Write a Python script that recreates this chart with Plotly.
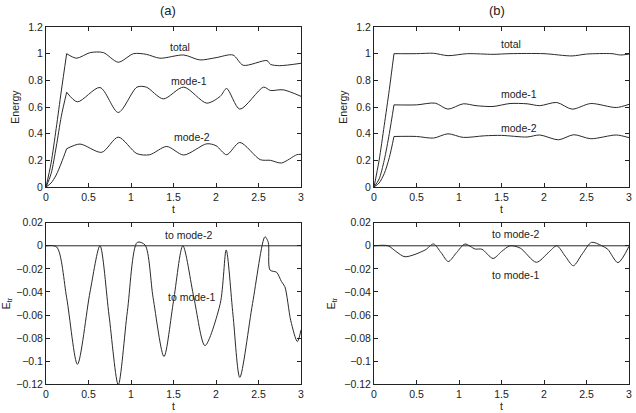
import plotly.graph_objects as go

# ---------------- data ----------------
# panel (a) energy: initial rise
rise_a_t = [0, 0.06, 0.12, 0.18, 0.243]
rise_a_total = [0, 0.18, 0.44, 0.72, 1.0]
rise_a_mode1 = [0, 0.10, 0.30, 0.53, 0.711]
rise_a_mode2 = [0, 0.03, 0.09, 0.18, 0.287]

total_a_t = [0.243, 0.36, 0.52, 0.675, 0.85, 1.03, 1.18, 1.34, 1.62, 1.81, 2.0, 2.2, 2.32, 2.6, 2.64, 2.75, 3.0]
total_a = [1.0, 0.966, 1.008, 1.008, 0.936, 1.0, 0.995, 0.966, 0.99, 0.953, 0.97, 0.99, 0.913, 0.948, 0.92, 0.91, 0.928]

mode1_a_t = [0.243, 0.37, 0.635, 0.85, 1.07, 1.18, 1.38, 1.62, 1.89, 2.05, 2.125, 2.28, 2.56, 2.64, 2.79, 3.0]
mode1_a = [0.711, 0.639, 0.746, 0.559, 0.749, 0.749, 0.661, 0.749, 0.629, 0.68, 0.739, 0.584, 0.749, 0.724, 0.729, 0.68]

mode2_a_t = [0.243, 0.4, 0.655, 0.85, 1.07, 1.22, 1.42, 1.62, 1.89, 2.0, 2.125, 2.28, 2.52, 2.64, 2.77, 2.95, 3.0]
mode2_a = [0.287, 0.322, 0.26, 0.374, 0.25, 0.242, 0.304, 0.24, 0.324, 0.31, 0.242, 0.334, 0.205, 0.2, 0.18, 0.242, 0.245]

# panel (b) energy: initial rise
rise_b_t = [0, 0.06, 0.12, 0.18, 0.235]
rise_b_total = [0, 0.2, 0.46, 0.73, 1.0]
rise_b_mode1 = [0, 0.06, 0.2, 0.4, 0.616]
rise_b_mode2 = [0, 0.03, 0.1, 0.22, 0.379]

total_b_t = [0.235, 0.5, 0.7, 0.87, 1.1, 1.4, 1.6, 2.0, 2.33, 2.5, 2.8, 2.9, 3.0]
total_b = [1.0, 1.0, 1.003, 0.985, 1.0, 0.995, 1.0, 1.0, 0.983, 0.997, 1.0, 0.99, 0.997]

mode1_b_t = [0.235, 0.5, 0.72, 0.87, 1.05, 1.2, 1.4, 1.6, 1.8, 1.95, 2.15, 2.33, 2.55, 2.85, 3.0]
mode1_b = [0.616, 0.616, 0.629, 0.584, 0.624, 0.61, 0.604, 0.626, 0.624, 0.61, 0.634, 0.584, 0.626, 0.596, 0.62]

mode2_b_t = [0.235, 0.5, 0.7, 0.87, 1.05, 1.3, 1.5, 1.8, 1.95, 2.17, 2.35, 2.55, 2.85, 3.0]
mode2_b = [0.379, 0.379, 0.367, 0.399, 0.372, 0.384, 0.387, 0.375, 0.39, 0.354, 0.392, 0.362, 0.39, 0.37]

# energy transfer
zero_t = [0, 3]
etr_mode2 = [0, 0]

etr_a_t = [0, 0.125, 0.243, 0.37, 0.518, 0.635, 0.741, 0.85, 0.957, 1.074, 1.165, 1.26, 1.388, 1.5,
           1.61, 1.74, 1.87, 2.05, 2.12, 2.2, 2.28, 2.43, 2.576, 2.615, 2.635, 2.714, 2.77, 2.81, 2.88, 2.957, 3.0]
etr_a = [0, -0.001, -0.045, -0.1027, -0.04, 0.0, -0.06, -0.1205, -0.057, 0.003, 0.0007, -0.045, -0.096, -0.048,
         0.0, -0.045, -0.0865, -0.05, -0.0036, -0.06, -0.114, -0.05, 0.0078, 0.003, -0.021, -0.023, -0.031, -0.0354, -0.065, -0.083, -0.073]

etr_b_t = [0, 0.165, 0.26, 0.365, 0.6, 0.70, 0.79, 0.874, 0.97, 1.07, 1.19, 1.27, 1.40, 1.5, 1.6, 1.72, 1.91,
           2.05, 2.15, 2.25, 2.345, 2.45, 2.56, 2.68, 2.75, 2.87, 3.0]
etr_b = [0, 0, -0.005, -0.0095, -0.0037, 0.0016, -0.006, -0.0137, -0.006, 0.0015, -0.0028, -0.003, -0.011, -0.005,
         0.0, -0.002, -0.0143, -0.006, 0.0, -0.009, -0.0173, -0.007, 0.003, 0.0, -0.003, -0.0146, -0.0005]

# ---------------- figure ----------------
LINE = dict(color="#2a2a2a", width=1)
FONT = "Liberation Sans, Arial, sans-serif"

fig = go.Figure()

def add(x, y, xa, ya, shape="spline"):
    fig.add_trace(go.Scatter(x=x, y=y, mode="lines", line=dict(**LINE, shape=shape, smoothing=0.8),
                             xaxis=xa, yaxis=ya, showlegend=False, hoverinfo="skip"))

# (a) energy
for x, y in [(rise_a_t, rise_a_total), (rise_a_t, rise_a_mode1), (rise_a_t, rise_a_mode2),
             (total_a_t, total_a), (mode1_a_t, mode1_a), (mode2_a_t, mode2_a)]:
    add(x, y, "x", "y")
# (b) energy
for x, y in [(rise_b_t, rise_b_total), (rise_b_t, rise_b_mode1), (rise_b_t, rise_b_mode2),
             (total_b_t, total_b), (mode1_b_t, mode1_b), (mode2_b_t, mode2_b)]:
    add(x, y, "x2", "y2")
# (a) transfer
add(zero_t, etr_mode2, "x3", "y3", shape="linear")
add(etr_a_t, etr_a, "x3", "y3")
# (b) transfer
add(zero_t, etr_mode2, "x4", "y4", shape="linear")
add(etr_b_t, etr_b, "x4", "y4")

L_DOM = [46 / 636, 301 / 636]
R_DOM = [374 / 636, 629 / 636]
T_DOM = [1 - 187 / 413, 1 - 27 / 413]
B_DOM = [1 - 384.3 / 413, 1 - 222.7 / 413]

tickfont = dict(family=FONT, size=10.5, color="#222")
titlefont = dict(family=FONT, size=10.5, color="#222")

def xax(dom, anchor):
    return dict(domain=dom, anchor=anchor, range=[0, 3], dtick=0.5, tick0=0,
                showline=True, linecolor="#222", linewidth=1, mirror="ticks",
                ticks="inside", ticklen=4, tickcolor="#222", showgrid=False, zeroline=False,
                tickfont=tickfont, title=dict(text="t", font=titlefont, standoff=2),
                automargin=False)

def yax(dom, anchor, rng, dt, title):
    return dict(domain=dom, anchor=anchor, range=rng, dtick=dt, tick0=0,
                showline=True, linecolor="#222", linewidth=1, mirror="ticks",
                ticks="inside", ticklen=4, tickcolor="#222", showgrid=False, zeroline=False,
                tickfont=tickfont, title=dict(text=title, font=titlefont, standoff=6),
                automargin=False)

fig.update_layout(
    width=636, height=413,
    margin=dict(l=0, r=0, t=0, b=0),
    paper_bgcolor="white", plot_bgcolor="white",
    font=dict(family=FONT, size=10.5, color="#222"),
    xaxis=xax(L_DOM, "y"),
    yaxis=yax(T_DOM, "x", [0, 1.2], 0.2, "Energy"),
    xaxis2=xax(R_DOM, "y2"),
    yaxis2=yax(T_DOM, "x2", [0, 1.2], 0.2, "Energy"),
    xaxis3=xax(L_DOM, "y3"),
    yaxis3=yax(B_DOM, "x3", [-0.12, 0.02], 0.02, "E<sub>tr</sub>"),
    xaxis4=xax(R_DOM, "y4"),
    yaxis4=yax(B_DOM, "x4", [-0.12, 0.02], 0.02, "E<sub>tr</sub>"),
)

ann = []
def label(text, x, y, xr, yr, size=10.5):
    ann.append(dict(text=text, x=x, y=y, xref=xr, yref=yr, showarrow=False,
                    font=dict(family=FONT, size=size, color="#222"), xanchor="center", yanchor="middle"))

label("total", 1.576, 1.05, "x", "y")
label("mode-1", 1.68, 0.795, "x", "y")
label("mode-2", 1.72, 0.375, "x", "y")
label("total", 1.61, 1.072, "x2", "y2")
label("mode-1", 1.71, 0.70, "x2", "y2")
label("mode-2", 1.71, 0.443, "x2", "y2")
label("to mode-2", 1.68, 0.0093, "x3", "y3")
label("to mode-1", 1.706, -0.0444, "x3", "y3")
label("to mode-2", 1.67, 0.0102, "x4", "y4")
label("to mode-1", 1.67, -0.0253, "x4", "y4")
label("(a)", 168 / 636, 1 - 10 / 413, "paper", "paper", size=13)
label("(b)", 497 / 636, 1 - 10 / 413, "paper", "paper", size=13)
fig.update_layout(annotations=ann)

fig.write_html("out.html")
